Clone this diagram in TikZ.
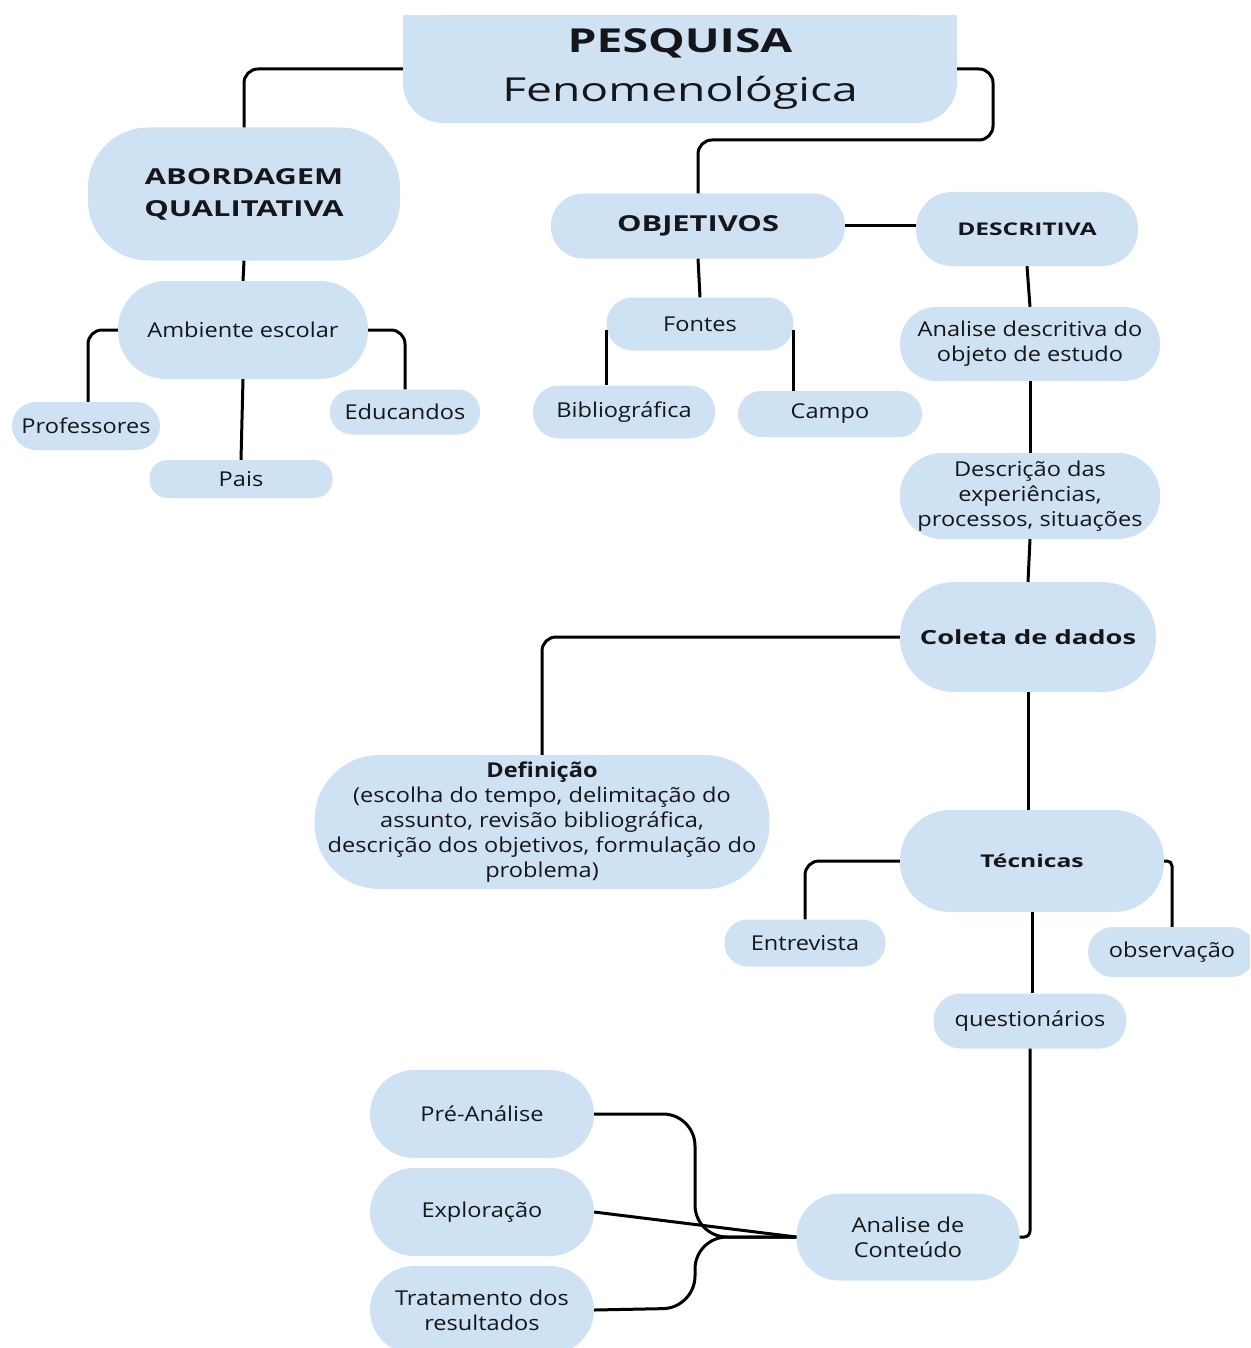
\documentclass[tikz,border=0pt]{standalone}
\usepackage{fontspec}
\setmainfont{Open Sans}[FakeStretch=1.15]
\newfontfamily\widefont{Open Sans}[FakeStretch=1.4]
\definecolor{boxblue}{RGB}{207,226,243}
\definecolor{ink}{RGB}{22,22,26}
\newcommand\regf{\fontsize{20.5}{25}\selectfont}
\begin{document}
\begin{tikzpicture}[x=1pt,y=-1pt,
  box/.style={rectangle, fill=boxblue, text=ink, align=center, inner sep=0pt, font=\regf},
  conn/.style={draw=black, line width=3pt, rounded corners=14pt},
  bigbold/.style={font=\widefont\bfseries\fontsize{22}{32}\selectfont}]
\useasboundingbox (0,0) rectangle (1250,1348);
\clip (0,0) rectangle (1250,1348);
% title
\fill[boxblue] (403,15) rectangle (957,60);
\node[box, minimum width=554pt, minimum height=108pt, rounded corners=40pt] (title) at (680,69)
  {{\widefont\bfseries\fontsize{33}{48}\selectfont PESQUISA}\\[18pt]{\widefont\fontsize{33}{40}\selectfont Fenomenológica}};
\node[box, bigbold, minimum width=312pt, minimum height=133pt, rounded corners=60pt] (abord) at (244,194) {ABORDAGEM\\QUALITATIVA};
\node[box, bigbold, minimum width=294pt, minimum height=65pt, rounded corners=32pt] (obj) at (698,226) {OBJETIVOS};
\node[box, font=\widefont\bfseries\fontsize{17.5}{22}\selectfont, minimum width=222pt, minimum height=74pt, rounded corners=36pt] (desc) at (1027,229) {DESCRITIVA};
\node[box, minimum width=250pt, minimum height=98pt, rounded corners=48pt] (amb) at (243,330) {Ambiente escolar};
\node[box, minimum width=148pt, minimum height=48pt, rounded corners=24pt] (prof) at (86,426) {Professores};
\node[box, minimum width=183pt, minimum height=38pt, rounded corners=18pt] (pais) at (241,479) {Pais};
\node[box, minimum width=150pt, minimum height=45pt, rounded corners=22pt] (edu) at (405,412) {Educandos};
\node[box, minimum width=187pt, minimum height=53pt, rounded corners=26pt] (fontes) at (700,324) {Fontes};
\node[box, minimum width=182pt, minimum height=53pt, rounded corners=26pt] (biblio) at (624,412) {Bibliográfica};
\node[box, minimum width=184pt, minimum height=46pt, rounded corners=23pt] (campo) at (830,414) {Campo};
\node[box, minimum width=260pt, minimum height=74pt, rounded corners=36pt] (anadesc) at (1030,344) {Analise descritiva do\\objeto de estudo};
\node[box, minimum width=260pt, minimum height=86pt, rounded corners=42pt] (descr) at (1030,496) {Descrição das\\experiências,\\processos, situações};
\node[box, font=\widefont\bfseries\fontsize{19.5}{24}\selectfont, minimum width=256pt, minimum height=110pt, rounded corners=54pt] (coleta) at (1028,637) {Coleta de dados};
\node[box, minimum width=455pt, minimum height=134pt, rounded corners=65pt] (defin) at (542,822)
  {\textbf{Definição}\\(escolha do tempo, delimitação do\\assunto, revisão bibliográfica,\\descrição dos objetivos, formulação do\\problema)};
\node[box, font=\widefont\bfseries\fontsize{17.6}{22}\selectfont, minimum width=264pt, minimum height=102pt, rounded corners=50pt] (tec) at (1032,861) {Técnicas};
\node[box, minimum width=161pt, minimum height=47pt, rounded corners=23pt] (entrev) at (805,943) {Entrevista};
\node[box, minimum width=168pt, minimum height=50pt, rounded corners=25pt] (obs) at (1172,952) {observação};
\node[box, minimum width=193pt, minimum height=55pt, rounded corners=27pt] (quest) at (1030,1021) {questionários};
\node[box, minimum width=224pt, minimum height=88pt, rounded corners=44pt] (pre) at (482,1114) {Pré-Análise};
\node[box, minimum width=224pt, minimum height=88pt, rounded corners=44pt] (explo) at (482,1212) {Exploração};
\node[box, minimum width=224pt, minimum height=88pt, rounded corners=44pt] (trat) at (482,1310) {Tratamento dos\\resultados};
\node[box, minimum width=223pt, minimum height=87pt, rounded corners=43pt] (anacont) at (908,1237) {Analise de\\Conteúdo};
% helper coordinates
\coordinate (c1) at (993,140);
\coordinate (mx) at (695,0);
% connectors
\draw[conn] (title.west) -| (abord.north);
\draw[conn] (title.east) -| (c1) -| (obj.north);
\draw[conn] (obj.east) -- (desc.west |- obj.east);
\draw[conn] (abord.south) -- (amb.north);
\draw[conn] (amb.west) -| ([xshift=2pt]prof.north);
\draw[conn] (amb.south) -- (pais.north);
\draw[conn] (amb.east) -| (edu.north);
\draw[conn] (obj.south) -- (fontes.north);
\draw[conn] ([yshift=-6pt]fontes.west) -- (fontes.west |- biblio.north);
\draw[conn] ([yshift=-6pt]fontes.east) -- (fontes.east |- campo.north);
\draw[conn] (desc.south) -- (anadesc.north);
\draw[conn] (anadesc.south) -- (descr.north);
\draw[conn] (descr.south) -- (coleta.north);
\draw[conn] (coleta.west) -| (defin.north);
\draw[conn] (coleta.south) -- (coleta.south |- tec.north);
\draw[conn] (tec.west) -| (entrev.north);
\draw[conn, rounded corners=5pt] (tec.east) -| (obs.north);
\draw[conn] (tec.south) -- (tec.south |- quest.north);
\draw[conn, rounded corners=6pt] (quest.south) |- (anacont.east);
\draw[conn, rounded corners=32pt] (pre.east) -- (pre.east -| mx) -- (anacont.west -| mx) -- (anacont.west);
\draw[conn] (explo.east) -- (anacont.west);
\draw[conn, rounded corners=32pt] (trat.east) -- ([yshift=2pt]trat.east -| mx) -- (anacont.west -| mx) -- (anacont.west);
\end{tikzpicture}
\end{document}
